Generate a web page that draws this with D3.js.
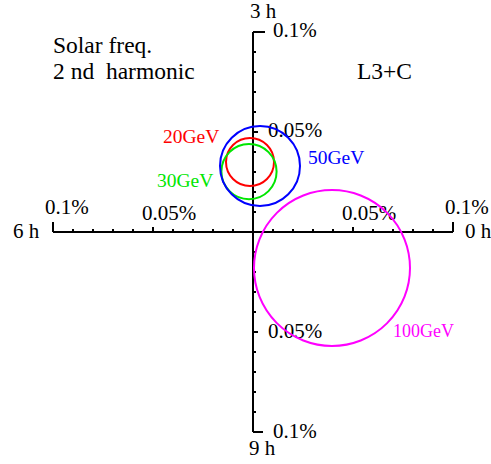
<!DOCTYPE html>
<html>
<head>
<meta charset="utf-8">
<script src="https://cdn.jsdelivr.net/npm/d3@7"></script>
<style>
  html, body { margin: 0; padding: 0; background: #fff; }
  svg { display: block; }
</style>
</head>
<body>
<svg id="chart" width="491" height="464"></svg>
<script>
// Second-harmonic solar-frequency vectors (amplitude in %), one error circle per energy cut.
// x component points to 0 h, y component points to 3 h.
const energies = ["20GeV", "30GeV", "50GeV", "100GeV"];
const compX   = [-0.0015, -0.002, 0.0035, 0.0395];
const compY   = [0.035, 0.0302, 0.033, -0.018];
const errR    = [0.012, 0.0138, 0.020, 0.039];
const colors  = ["#ff0000", "#00e600", "#0000ff", "#ff00ff"];

// Axis range and tick labels
const axisMax = 0.1;
const tickStep = 0.01;
const labelledTicks = [-0.1, -0.05, 0.05, 0.1];
const tickText = { "0.1": "0.1%", "0.05": "0.05%" };
const hourLabels = ["0 h", "3 h", "6 h", "9 h"];
const titleLines = ["Solar freq.", "2 nd  harmonic"];
const experiment = "L3+C";

const serif = "'Liberation Serif', 'Times New Roman', Times, serif";
const svg = d3.select("#chart").attr("font-family", serif).style("font-family", serif);
const x = d3.scaleLinear().domain([-axisMax, axisMax]).range([53, 453]);
const y = d3.scaleLinear().domain([-axisMax, axisMax]).range([432, 32]);

const ticks = d3.range(-10, 11).filter(i => i !== 0).map(i => i * tickStep);
const tickLen = v => {
  const a = Math.round(Math.abs(v) * 100);
  return a === 10 ? 10 : (a === 5 ? 5 : 3);
};

const axes = svg.append("g")
  .attr("stroke", "#000").attr("stroke-width", 2).attr("fill", "none");

// horizontal axis (6 h <-> 0 h)
axes.append("line")
  .attr("x1", x(-axisMax)).attr("x2", x(axisMax))
  .attr("y1", y(0)).attr("y2", y(0));
axes.selectAll("line.xt").data(ticks).join("line")
  .attr("class", "xt")
  .attr("x1", d => x(d)).attr("x2", d => x(d))
  .attr("y1", y(0)).attr("y2", d => y(0) - tickLen(d));

// vertical axis (9 h <-> 3 h)
axes.append("line")
  .attr("x1", x(0)).attr("x2", x(0))
  .attr("y1", y(-axisMax)).attr("y2", y(axisMax));
axes.selectAll("line.yt").data(ticks).join("line")
  .attr("class", "yt")
  .attr("x1", x(0)).attr("x2", d => x(0) + (Math.abs(d) > 0.099 ? (d > 0 ? 12 : 10) : tickLen(d)))
  .attr("y1", d => y(d)).attr("y2", d => y(d));

const labelKey = v => String(Math.abs(v));

// tick labels on the horizontal axis
svg.append("g").attr("font-size", 21).attr("fill", "#000")
  .selectAll("text").data(labelledTicks).join("text")
  .attr("font-family", serif)
  .attr("x", d => x(d) + (Math.abs(d) > 0.099 ? -8 : -11))
  .attr("y", d => y(0) - (Math.abs(d) > 0.099 ? 18 : 12))
  .text(d => tickText[labelKey(d)]);

// tick labels on the vertical axis
svg.append("g").attr("font-size", 21).attr("fill", "#000")
  .selectAll("text").data(labelledTicks).join("text")
  .attr("font-family", serif)
  .attr("x", d => x(0) + (Math.abs(d) > 0.099 ? 20 : 15))
  .attr("y", d => y(d) + (d > 0 ? 5 : 6))
  .text(d => tickText[labelKey(d)]);

// hour labels at the axis ends
const hourPos = [
  [x(axisMax) + 12, y(0) + 6],
  [x(0) - 3, y(axisMax) - 14],
  [x(-axisMax) - 40, y(0) + 6],
  [x(0) - 4, y(-axisMax) + 23]
];
svg.append("g").attr("font-size", 21).attr("fill", "#000")
  .selectAll("text").data(hourLabels).join("text")
  .attr("font-family", serif)
  .attr("x", (d, i) => hourPos[i][0])
  .attr("y", (d, i) => hourPos[i][1])
  .text(d => d);

// error circles
svg.append("g").attr("fill", "none").attr("stroke-width", 2)
  .selectAll("circle").data(energies).join("circle")
  .attr("cx", (d, i) => x(compX[i]))
  .attr("cy", (d, i) => y(compY[i]))
  .attr("r", (d, i) => x(errR[i]) - x(0))
  .attr("stroke", (d, i) => colors[i]);

// energy labels
const energyPos = [[163, 143], [157, 187], [308, 164], [393, 337]];
const energySize = [19.5, 19.5, 19.5, 18];
svg.append("g")
  .selectAll("text").data(energies).join("text")
  .attr("font-family", serif)
  .attr("x", (d, i) => energyPos[i][0])
  .attr("y", (d, i) => energyPos[i][1])
  .attr("font-size", (d, i) => energySize[i])
  .attr("fill", (d, i) => colors[i])
  .text(d => d);

// title block
svg.append("g").attr("font-size", 23.5).attr("fill", "#000")
  .selectAll("text").data(titleLines).join("text")
  .attr("font-family", serif)
  .attr("x", 53)
  .attr("y", (d, i) => 53 + i * 26)
  .attr("xml:space", "preserve")
  .style("white-space", "pre")
  .text(d => d);

svg.append("text")
  .attr("font-family", serif)
  .attr("x", 357).attr("y", 79)
  .attr("font-size", 23.5).attr("fill", "#000")
  .text(experiment);
</script>
</body>
</html>
